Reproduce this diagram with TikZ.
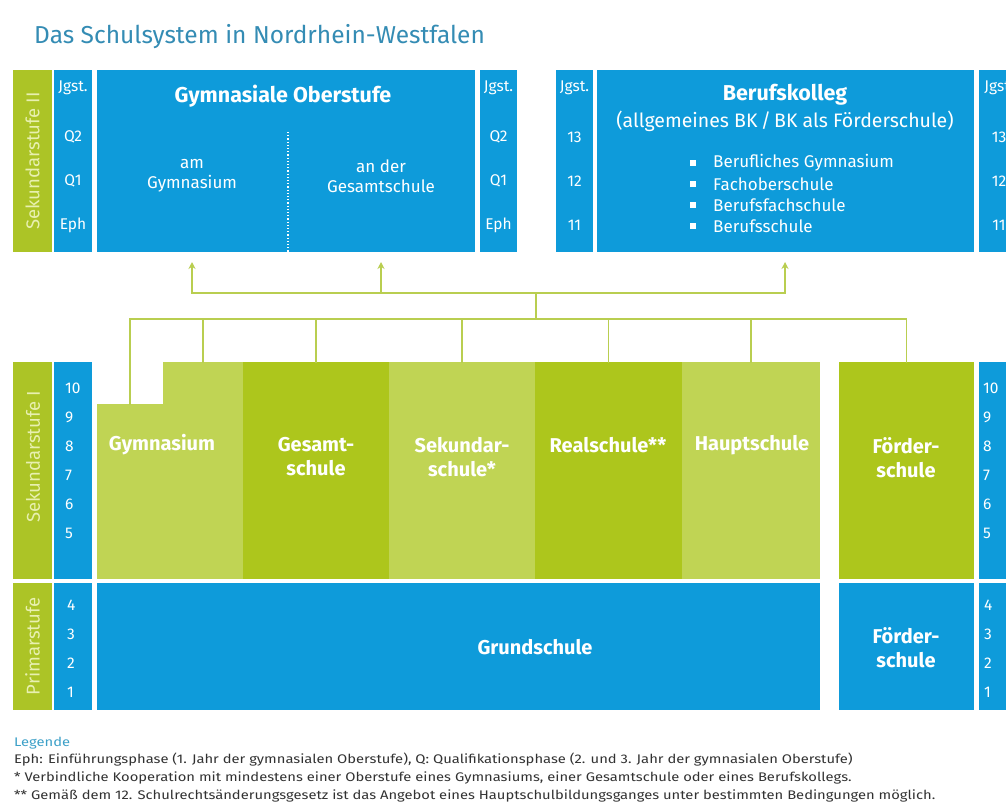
\documentclass[tikz,border=0pt]{standalone}
\usepackage{fontspec}
\setmainfont{Fira Sans}
\newfontfamily\notefont[FakeStretch=1.18]{Fira Sans}
\usepackage{tikz}
\usetikzlibrary{positioning,calc,arrows.meta}
\definecolor{nrwblue}{RGB}{14,155,218}
\definecolor{nrwdark}{RGB}{173,198,28}
\definecolor{nrwlight}{RGB}{192,212,84}
\definecolor{nrwbar}{RGB}{172,196,38}
\definecolor{nrwbartext}{RGB}{232,240,176}
\definecolor{nrwline}{RGB}{185,206,80}
\definecolor{nrwtitle}{RGB}{52,140,180}
\definecolor{nrwlegend}{RGB}{60,160,200}
\definecolor{nrwnote}{RGB}{50,50,50}

\begin{document}
\begin{tikzpicture}[x=1pt,y=-1pt,
    bluebox/.style={rectangle,fill=nrwblue,inner sep=0pt,outer sep=0pt,anchor=north west},
    darkbox/.style={bluebox,fill=nrwdark},
    lightbox/.style={bluebox,fill=nrwlight},
    barbox/.style={bluebox,fill=nrwbar},
    bartext/.style={rotate=90,text=nrwbartext,font=\fontsize{18.5}{21}\selectfont},
    jg/.style={text=white,inner sep=0pt,font=\fontsize{15.5}{18}\selectfont},
    schule/.style={text=white,align=center,font=\bfseries\fontsize{20}{24}\selectfont},
    plain/.style={text=white,align=center,font=\fontsize{17}{20}\selectfont},
    note/.style={anchor=base west,text=nrwnote,inner sep=0pt,font=\notefont\fontsize{12.5}{14}\selectfont},
    link/.style={draw=nrwline,line width=1.8pt,line cap=rect},
    uplink/.style={link,line cap=butt,-{Stealth[length=7pt,width=7pt]}}]
\useasboundingbox (0,0) rectangle (1006,809);
\clip (0,0) rectangle (1006,809);
\fill[white] (0,0) rectangle (1006,809);

\node[anchor=base west,inner sep=0pt,text=nrwtitle,font=\fontsize{24.5}{28}\selectfont] (title) at (34,43) {Das Schulsystem in Nordrhein-Westfalen};

% Sekundarstufe II
\node[barbox,minimum width=39,minimum height=182] (s2bar) at (13,70) {};
\node[bartext] (s2txt) at (s2bar.center) {Sekundarstufe II};
\node[bluebox,minimum width=38,minimum height=182] (s2l) at (54,70) {};
\node[bluebox,minimum width=378,minimum height=182] (gos) at (97,70) {};
\node[bluebox,minimum width=37,minimum height=182] (s2m) at (480,70) {};
\node[bluebox,minimum width=37,minimum height=182] (s2n) at (556,70) {};
\node[bluebox,minimum width=377,minimum height=182] (bk) at (597,70) {};
\node[bluebox,minimum width=40,minimum height=182] (s2r) at (979,70) {};
\foreach \t/\y in {Jgst./88,Q2/137,Q1/181,Eph/225}{
  \node[jg] (gl\y) at (73,\y) {\t};
  \node[jg] (gr\y) at (498.5,\y) {\t};
}
\foreach \t/\y in {Jgst./88,13/137,12/181,11/225}{
  \node[jg] (bl\y) at (574.5,\y) {\t};
  \node[jg] (br\y) at (999,\y) {\t};
}
\node[schule,font=\bfseries\fontsize{21.5}{26}\selectfont] (gostxt) at (283,96) {Gymnasiale Oberstufe};
\node[plain] (amg) at (192,176) {am\\Gymnasium};
\node[plain] (ang) at (381,176) {an der\\Gesamtschule};
\draw[white,dotted,line width=1.2pt] (288,132) -- (288,252);
\node[schule,font=\bfseries\fontsize{21.5}{26}\selectfont] (bktxt) at (785,95) {Berufskolleg};
\node[plain,font=\fontsize{19.5}{23}\selectfont] (bksub) at (785,121) {(allgemeines BK\,/\,BK als Förderschule)};
\foreach \t [count=\i] in {Berufliches Gymnasium,Fachoberschule,Berufsfachschule,Berufsschule}{
  \node[fill=white,minimum size=5.5pt,inner sep=0pt] (bb\i) at (693,142+21*\i) {};
  \node[plain,anchor=west,inner sep=0pt] (bkl\i) at (713,142+21*\i) {\t};
}

% Verbindungen
\coordinate (bus1) at (536,293);
\coordinate (bus2) at (536,319);
\draw[link] (amg |- bus1) -- (bktxt |- bus1);
\foreach \n in {amg,ang,bktxt}
  \draw[uplink] (\n |- bus1) -- ($(\n |- gos.south)+(0,10)$);
\draw[link] (bus1) -- (bus2);

% Sekundarstufe I
\node[barbox,minimum width=39,minimum height=217] (s1bar) at (13,362) {};
\node[bartext] (s1txt) at (33,457) {Sekundarstufe I};
\node[bluebox,minimum width=38,minimum height=217] (s1l) at (54,362) {};
\node[lightbox,minimum width=66,minimum height=175] (gymA) at (97,404) {};
\node[lightbox,minimum width=80,minimum height=217] (gymB) at (163,362) {};
\node[darkbox,minimum width=146,minimum height=217] (ges) at (243,362) {};
\node[lightbox,minimum width=146,minimum height=217] (sek) at (389,362) {};
\node[darkbox,minimum width=147,minimum height=217] (real) at (535,362) {};
\node[lightbox,minimum width=138,minimum height=217] (haupt) at (682,362) {};
\node[darkbox,minimum width=135,minimum height=217] (fsI) at (839,362) {};
\node[bluebox,minimum width=40,minimum height=217] (s1r) at (979,362) {};
\draw[link] (gymA |- bus2) -- (fsI |- bus2);
\foreach \n in {gymA,gymB,ges,sek,real,haupt,fsI}
  \draw[link] (\n |- bus2) -- (\n.north);
\node[schule] (gymtxt) at (162,445) {Gymnasium};
\node[schule] (gestxt) at (316,457) {Gesamt-\\schule};
\node[schule] (sektxt) at (462,457) {Sekundar-\\schule*};
\node[schule] (realtxt) at (608,445) {Realschule**};
\node[schule] (haupttxt) at (752,445) {Hauptschule};
\node[schule] (fsItxt) at (906,458) {Förder-\\schule};
\foreach \t [count=\i from 0] in {10,9,8,7,6,5}{
  \node[jg,anchor=west] (nl\t) at (65,388+29*\i) {\t};
  \node[jg,anchor=west] (nr\t) at (983,388+29*\i) {\t};
}

% Primarstufe
\node[barbox,minimum width=39,minimum height=127] (pbar) at (13,583) {};
\node[bartext] (ptxt) at (pbar.center) {Primarstufe};
\node[bluebox,minimum width=38,minimum height=127] (pl) at (54,583) {};
\node[bluebox,minimum width=723,minimum height=127] (grund) at (97,583) {};
\node[bluebox,minimum width=135,minimum height=127] (fsP) at (839,583) {};
\node[bluebox,minimum width=40,minimum height=127] (pr) at (979,583) {};
\node[schule] (grundtxt) at (535,647) {Grundschule};
\node[schule] (fsPtxt) at (906,648) {Förder-\\schule};
\foreach \t [count=\i from 0] in {4,3,2,1}{
  \node[jg,anchor=west] (pl\t) at (67,605+29*\i) {\t};
  \node[jg,anchor=west] (pr\t) at (984,605+29*\i) {\t};
}

% Legende
\node[note,text=nrwlegend] (leg) at (14,746) {Legende};
\node[note] (leg1) at (14,763) {Eph: Einführungsphase (1. Jahr der gymnasialen Oberstufe), Q: Qualifikationsphase (2. und 3. Jahr der gymnasialen Oberstufe)};
\node[note] (leg2) at (14,781) {* Verbindliche Kooperation mit mindestens einer Oberstufe eines Gymnasiums, einer Gesamtschule oder eines Berufskollegs.};
\node[note] (leg3) at (14,799) {** Gemäß dem 12. Schulrechtsänderungsgesetz ist das Angebot eines Hauptschulbildungsganges unter bestimmten Bedingungen möglich.};
\end{tikzpicture}
\end{document}
